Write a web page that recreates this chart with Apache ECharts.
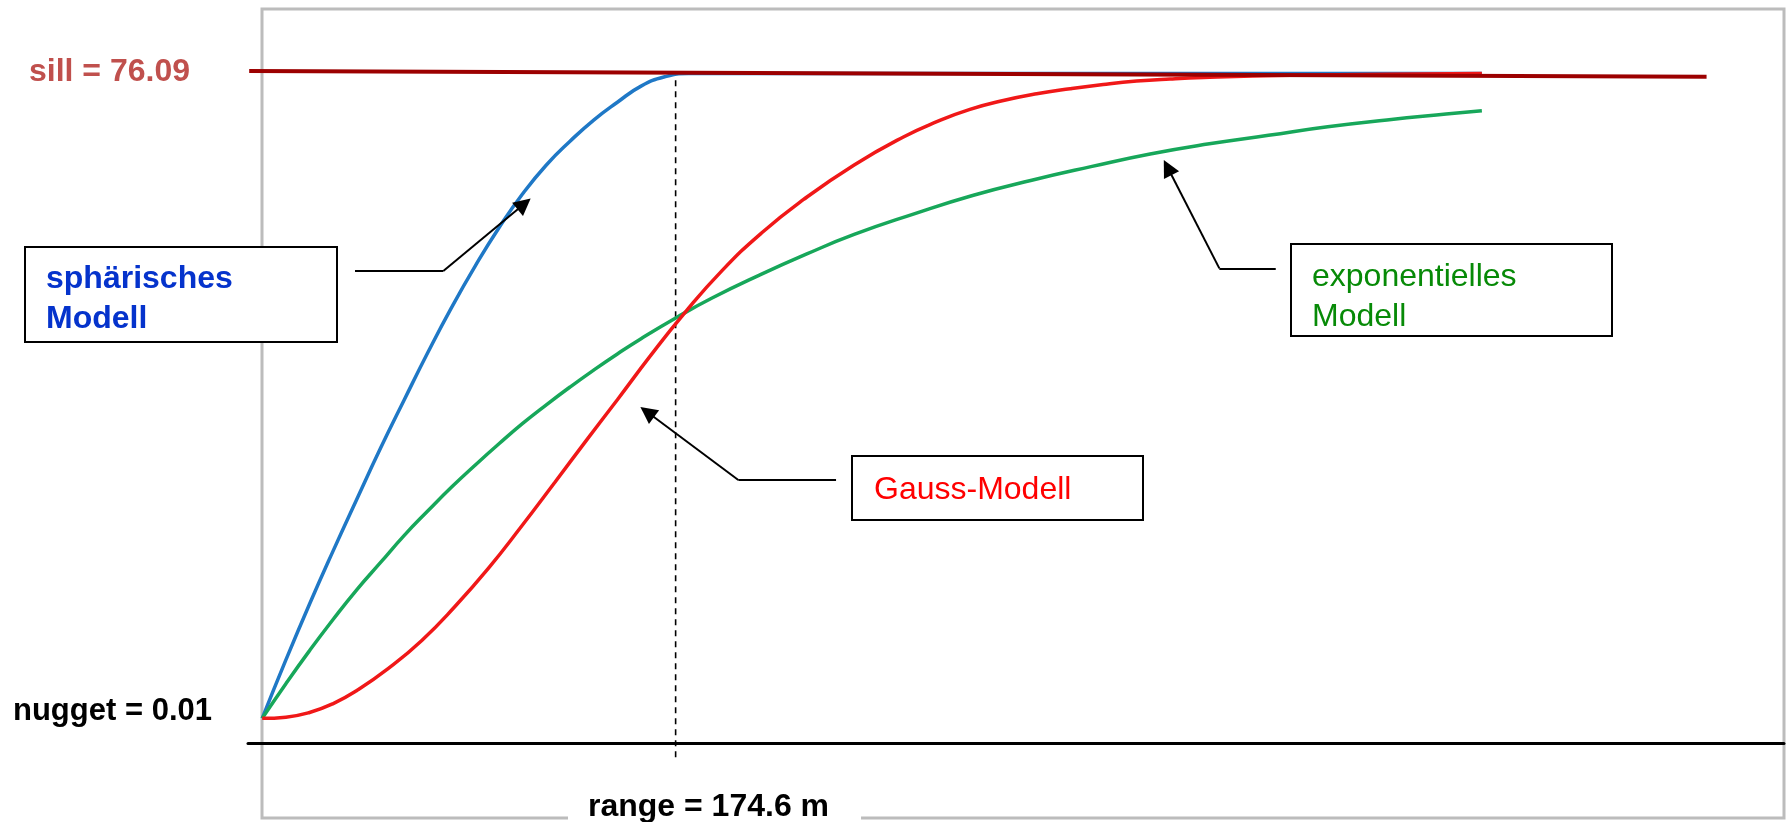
<!DOCTYPE html>
<html>
<head>
<meta charset="utf-8">
<script src="https://cdn.jsdelivr.net/npm/echarts@6/dist/echarts.min.js"></script>
<style>
html,body{margin:0;padding:0;background:#fff;}
#chart{width:1789px;height:822px;}
</style>
</head>
<body>
<div id="chart"></div>
<script>
// ---- model parameters ----
const nugget = 0.01;
const sill = 76.09;
const range = 174.6;

// ---- labels ----
const sillLabel = 'sill = ' + sill.toFixed(2);
const nuggetLabel = 'nugget = ' + nugget.toFixed(2);
const rangeLabel = 'range = ' + range.toFixed(1) + ' m';
const sphLabel = 'sphärisches\nModell';
const gauLabel = 'Gauss-Modell';
const expLabel = 'exponentielles\nModell';

// ---- spherical model: distance h [m], semivariance ----
const sphH = [0, 10, 20, 30, 40, 50, 60, 70, 80, 90, 100, 110, 120, 130, 140, 150, 160, 170, 180, 515.1];
const sphG = [0.01, 6.9, 13.5, 19.8, 25.9, 31.9, 37.6, 43.2, 48.5, 53.4, 57.9, 61.9, 65.3, 68.1, 70.6, 72.7, 74.6, 75.7, 76.09, 76.09];

// ---- exponential model ----
const expH = [0, 10, 20, 30, 40, 50, 60, 70, 80, 90, 100, 110, 120, 130, 140, 150, 160, 175, 190, 210, 230, 250, 275, 300, 325, 350, 375, 400, 425, 450, 475, 500, 515.1];
const expG = [0.01, 4.1, 8.0, 11.7, 15.2, 18.4, 21.6, 24.5, 27.3, 29.9, 32.4, 34.8, 37.0, 39.1, 41.1, 43.0, 44.8, 47.3, 49.6, 52.3, 54.8, 57.1, 59.5, 61.7, 63.5, 65.1, 66.6, 67.8, 68.8, 69.8, 70.6, 71.3, 71.7];

// ---- gaussian model ----
const gauH = [0, 10, 20, 30, 40, 53.3, 67.4, 81.4, 95.5, 109.6, 123.7, 137.7, 150, 164, 178, 194.1, 211, 228.5, 250, 270.8, 284.9, 298.9, 313, 327.1, 341.2, 355.2, 369.3, 383.4, 397.5, 434.1, 475, 515.1];
const gauG = [0.01, 0.15, 0.7, 1.75, 3.3, 5.9, 9.2, 13.2, 17.7, 22.7, 27.9, 33.1, 37.6, 42.8, 47.7, 52.8, 57.3, 61.2, 65.3, 68.6, 70.4, 71.85, 72.9, 73.7, 74.3, 74.8, 75.2, 75.45, 75.62, 75.87, 76.0, 76.09];

// ---- sill reference line as drawn (slightly tilted in the picture) ----
const sillLineH = [-5.5, 610.0];
const sillLineG = [76.38, 75.71];

// ---- range marker line extent ----
const rangeLineG = [75.3, -4.7];

const zip = (xs, ys) => xs.map((x, i) => [x, ys[i]]);
const FONT = '"Liberation Sans", Arial, Helvetica, sans-serif';

// annotation leader geometry (data coordinates)
const leaderFlat = [
  [[39.19, 52.79], [76.49, 52.79]],
  [[242.35, 28.13], [201.08, 28.13]],
  [[428.05, 53.10], [404.23, 53.10]]
];
const leaderArrow = [
  [[76.49, 52.79], [110.6, 60.7]],
  [[201.08, 28.13], [162.6, 36.15]],
  [[404.23, 53.10], [382.4, 65.0]]
];

const chart = echarts.init(document.getElementById('chart'), null, {renderer: 'canvas'});

const option = {
  animation: false,
  backgroundColor: '#ffffff',
  grid: {left: 248, right: 5, top: 9, bottom: 79},
  xAxis: {
    type: 'value', min: -6, max: 642.7,
    axisLine: {show: true, onZero: false, lineStyle: {color: '#000', width: 3}},
    axisTick: {show: false}, axisLabel: {show: false}, splitLine: {show: false}
  },
  yAxis: {
    type: 'value', min: -2.9, max: 83.7, show: false,
    splitLine: {show: false}
  },
  series: [
    {
      name: 'sphärisches Modell', type: 'line', data: zip(sphH, sphG),
      smooth: 0.5, symbol: 'none', z: 3,
      lineStyle: {color: '#1f78c6', width: 3.5}
    },
    {
      name: 'exponentielles Modell', type: 'line', data: zip(expH, expG),
      smooth: 0.5, symbol: 'none', z: 3,
      lineStyle: {color: '#17a75a', width: 3.5}
    },
    {
      name: 'Gauss-Modell', type: 'line', data: zip(gauH, gauG),
      smooth: 0.5, symbol: 'none', z: 3,
      lineStyle: {color: '#f01818', width: 3.5}
    },
    {
      name: 'sill', type: 'line', data: zip(sillLineH, sillLineG),
      symbol: 'none', clip: false, z: 4,
      lineStyle: {color: '#9c0000', width: 4}
    },
    {
      name: 'range', type: 'line', data: [[range, rangeLineG[0]], [range, rangeLineG[1]]],
      symbol: 'none', clip: false, z: 2,
      lineStyle: {color: '#000', width: 1.6, type: [6, 5]}
    },
    {
      type: 'lines', coordinateSystem: 'cartesian2d', clip: false, z: 5,
      symbol: 'none',
      lineStyle: {color: '#000', width: 2, opacity: 1, curveness: 0},
      data: leaderFlat.map(c => ({coords: c}))
    },
    {
      type: 'lines', coordinateSystem: 'cartesian2d', clip: false, z: 5,
      symbol: ['none', 'triangle'], symbolSize: 17,
      lineStyle: {color: '#000', width: 2, opacity: 1, curveness: 0},
      data: leaderArrow.map(c => ({coords: c}))
    }
  ],
  graphic: [
    // outer frame
    {type: 'rect', z: 0, silent: true,
      shape: {x: 262, y: 9, width: 1522, height: 809},
      style: {fill: 'none', stroke: '#bcbcbc', lineWidth: 3}},
    // sill / nugget labels
    {type: 'text', z: 60, x: 29, y: 72,
      style: {text: sillLabel, font: 'bold 32px ' + FONT, fill: '#c0504d', verticalAlign: 'middle', align: 'left'}},
    {type: 'text', z: 60, x: 13, y: 711,
      style: {text: nuggetLabel, font: 'bold 31px ' + FONT, fill: '#000', verticalAlign: 'middle', align: 'left'}},
    // range label (covers the frame line)
    {type: 'text', z: 60, x: 568, y: 807,
      style: {text: rangeLabel, font: 'bold 32px ' + FONT, fill: '#000', verticalAlign: 'middle', align: 'left',
        backgroundColor: '#fff', padding: [4, 32, 4, 20]}},
    // spherical annotation
    {type: 'rect', z: 50, shape: {x: 25, y: 247, width: 312, height: 95},
      style: {fill: '#fff', stroke: '#000', lineWidth: 2}},
    {type: 'text', z: 51, x: 46, y: 259,
      style: {text: sphLabel, font: 'bold 32px ' + FONT, fill: '#0533cc', verticalAlign: 'top', align: 'left', lineHeight: 40}},
    // gauss annotation
    {type: 'rect', z: 50, shape: {x: 852, y: 456, width: 291, height: 64},
      style: {fill: '#fff', stroke: '#000', lineWidth: 2}},
    {type: 'text', z: 51, x: 874, y: 490,
      style: {text: gauLabel, font: '32px ' + FONT, fill: '#ff0000', verticalAlign: 'middle', align: 'left'}},
    // exponential annotation
    {type: 'rect', z: 50, shape: {x: 1291, y: 244, width: 321, height: 92},
      style: {fill: '#fff', stroke: '#000', lineWidth: 2}},
    {type: 'text', z: 51, x: 1312, y: 257,
      style: {text: expLabel, font: '32px ' + FONT, fill: '#078a07', verticalAlign: 'top', align: 'left', lineHeight: 40}}
  ]
};

chart.setOption(option);
</script>
</body>
</html>
